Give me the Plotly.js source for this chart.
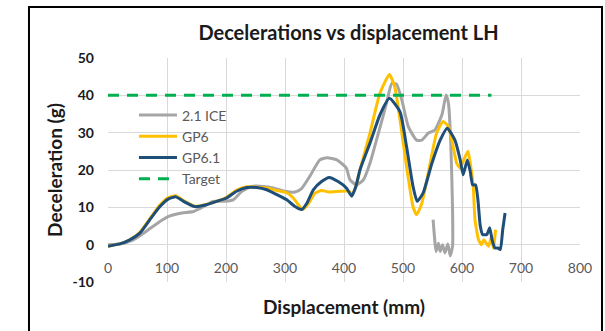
<!DOCTYPE html>
<html>
<head>
<meta charset="utf-8">
<script src="https://cdn.plot.ly/plotly-3.0.1.min.js"></script>
<style>
html,body{margin:0;padding:0;background:#fff;}
#chart{width:605px;height:331px;}
</style>
</head>
<body>
<div id="chart"></div>
<script>
// ---- Data ----
const seriesNames = ["2.1 ICE", "GP6", "GP6.1", "Target"];

const iceX = [0,20,43,65,88,105,125,145,162,178,196,212,227,243,263,280,300,317,328,342,359,371,388,404,410,421,433,444,455,466,472,481,489,498,509,523,532,543,554,566,573,577,581,584,584,580,576,571,567,563,560,556,554,551];
const iceY = [0,0.2,1.3,3.6,6.2,7.7,8.5,8.9,10.2,11.6,11.6,12,14.3,15.6,15.6,15.2,14.3,14.1,15,18.3,22.7,23.3,22.7,20.5,17.4,16,17.4,21.8,28,34.3,37.9,43.2,43,38.8,31.6,28,28,29.9,30.7,34.8,40.1,37.9,27.2,9.4,-0.4,-3,0.2,-2.2,0,-1.8,0.4,-1.8,0.9,6.7];

const gp6X = [0,20,37,54,71,88,102,115,128,147,167,184,201,218,235,252,269,286,303,314,325,331,340,351,362,375,393,408,414,420,427,444,461,477,486,495,506,517,523,532,546,557,568,577,585,591,597,603,610,614,619,622,628,633,637,645,650,653,657];
const gp6Y = [-0.4,0.2,1.3,3.3,7,10.6,12.6,13.1,11.8,10.3,10.8,11.6,12.7,14.6,15.5,15.4,15.2,14.5,13.9,12.5,10.2,9.5,11.1,13.8,14.5,14.1,14.3,14.3,13.6,15.5,20,29.9,40.6,45.6,42.3,33.4,20.9,10.2,8,11.1,21.8,29.9,33,31.6,26.3,21.8,20.5,22.7,25,21.8,15.6,6.7,1.3,0,1.3,-0.4,2.2,-0.9,4];

const gp61X = [0,20,37,54,71,88,102,115,128,147,167,184,201,218,235,252,269,286,303,317,328,337,348,362,375,390,404,413,420,427,444,461,477,495,506,517,524,534,549,563,575,588,597,602,609,614,618,623,627,631,635,642,647,651,656,661,665,669,673];
const gp61Y = [-0.4,0.2,1.3,3.1,6.7,10.2,12.2,12.8,11.6,10.2,10.7,11.6,12.5,14.3,15.3,15.3,14.7,13.4,12,10.2,9.4,11.1,14.7,16.9,18,16.9,15.2,13,15.5,20,27.2,34.8,39.2,35.6,26.3,15.6,11.6,13.8,21.8,28,31.2,28,22.7,18.7,22.7,19.6,16,16,12,5,2.7,2.7,4.5,1.3,-0.9,-0.9,-1.3,4,8.5];

const targetX = [0, 650];
const targetY = [40, 40];

const xTicks = [0,100,200,300,400,500,600,700,800];
const yTicks = [-10,0,10,20,30,40,50];

// ---- Styling ----
const FONT = "Lato, 'Open Sans', sans-serif";
const colors = {ice:"#A5A5A5", gp6:"#FFC000", gp61:"#1F4E79", target:"#00B050"};

const traces = [
  {x: iceX, y: iceY, name: seriesNames[0], type:"scatter", mode:"lines", legendgroup:"a",
   line:{color:colors.ice, width:3, shape:"spline", smoothing:0.5}},
  {x: gp6X, y: gp6Y, name: seriesNames[1], type:"scatter", mode:"lines", legendgroup:"b",
   line:{color:colors.gp6, width:3, shape:"spline", smoothing:0.5}},
  {x: gp61X, y: gp61Y, name: seriesNames[2], type:"scatter", mode:"lines", legendgroup:"c",
   line:{color:colors.gp61, width:3, shape:"spline", smoothing:0.5}},
  {x: targetX, y: targetY, name: seriesNames[3], type:"scatter", mode:"lines", legendgroup:"d",
   line:{color:colors.target, width:3, dash:"11px,8px"}}
];

const layout = {
  width:605, height:331,
  margin:{l:108, r:25, t:58, b:49, pad:0},
  paper_bgcolor:"#ffffff", plot_bgcolor:"#ffffff",
  font:{family:FONT, color:"#595959"},
  showlegend:true,
  title:{text:"Decelerations vs displacement LH", x:0.576, xanchor:"center", y:0.9, yanchor:"middle",
         font:{family:FONT, size:20, weight:"bold", color:"#1a1a1a"}},
  xaxis:{range:[0,800], tickvals:xTicks, ticktext:xTicks.map(String),
         showgrid:true, gridcolor:"#D9D9D9", gridwidth:1, zeroline:false, showline:false, ticks:"",
         anchor:"free", position:1/6, ticklabelstandoff:13,
         tickfont:{family:FONT, size:14, color:"#595959"},
         title:{text:"Displacement (mm)", standoff:26, font:{family:FONT, size:19, weight:"bold", color:"#1a1a1a"}},
         fixedrange:true},
  yaxis:{range:[-10,50], tickvals:yTicks, ticktext:yTicks.map(String),
         showgrid:true, gridcolor:"#D9D9D9", gridwidth:1, zeroline:false, showline:false, ticks:"",
         ticklabelstandoff:13,
         tickfont:{family:FONT, size:14, weight:"bold", color:"#1a1a1a"},
         title:{text:"Deceleration (g)", standoff:4, font:{family:FONT, size:19, weight:"bold", color:"#1a1a1a"}},
         fixedrange:true},
  legend:{x:0.055, y:0.815, xanchor:"left", yanchor:"top", bgcolor:"rgba(0,0,0,0)", itemwidth:38,
          font:{family:FONT, size:14, color:"#595959"}, tracegroupgap:4, traceorder:"normal"},
  shapes:[{type:"rect", xref:"paper", yref:"paper", x0:-0.1674, x1:1.0466, y0:-0.5, y1:1.2277,
           line:{color:"#000000", width:2}, fillcolor:"rgba(0,0,0,0)", layer:"below"}]
};

Plotly.newPlot("chart", traces, layout, {displayModeBar:false, staticPlot:true});
</script>
</body>
</html>
